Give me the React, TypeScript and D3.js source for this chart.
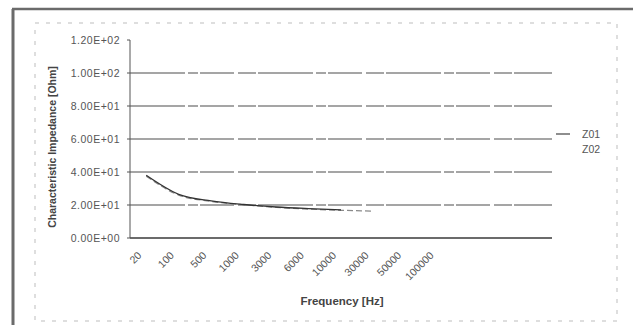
import React from "react";
import * as d3 from "d3";

// category axis (Excel line chart, last 3 slots empty)
const frequencies = ["20", "100", "500", "1000", "3000", "6000", "10000", "30000", "50000", "100000", "", "", ""];
const z01 = [38, 26.5, 22.5, 20.3, 18.8, 17.8, 17.0];
const z02 = [37.5, 26, 22.2, 20.1, 18.6, 17.5, 16.8, 16.3];
const yTicks = [0, 20, 40, 60, 80, 100, 120];
const seriesNames = ["Z01", "Z02"];

const W = 633;
const H = 325;
const plot = { left: 130, right: 552, top: 40, bottom: 238 };

const fmt = (v: number) => {
  if (v === 0) return "0.00E+00";
  const e = Math.floor(Math.log10(v));
  const m = v / Math.pow(10, e);
  return `${m.toFixed(2)}E+${String(e).padStart(2, "0")}`;
};

export default function App() {
  const x = d3
    .scaleBand<number>()
    .domain(frequencies.map((_, i) => i))
    .range([plot.left, plot.right]);
  const y = d3.scaleLinear().domain([0, 120]).range([plot.bottom, plot.top]);

  const line = d3
    .line<number>()
    .x((_, i) => (x(i) as number) + x.bandwidth() / 2)
    .y((d) => y(d))
    .curve(d3.curveMonotoneX);

  const font = "'Liberation Sans', Arial, sans-serif";

  return (
    <svg
      width={W}
      height={H}
      style={{ position: "absolute", left: 0, top: 0, background: "#fff" }}
      fontFamily={font}
    >
      {/* scanned outer frame */}
      <line x1={13} y1={9} x2={13} y2={H} stroke="#6b6b6b" strokeWidth={3} />
      <line x1={12} y1={9} x2={W} y2={9} stroke="#6b6b6b" strokeWidth={2.5} />
      {/* chart area border, faint dashes */}
      <rect
        x={35}
        y={23}
        width={582}
        height={298}
        fill="none"
        stroke="#bdbdbd"
        strokeWidth={1}
        strokeDasharray="4,7"
      />

      {/* gridlines */}
      {yTicks
        .filter((t) => t > 0 && t < 120)
        .map((t) => (
          <line
            key={t}
            x1={plot.left}
            x2={plot.right}
            y1={y(t)}
            y2={y(t)}
            stroke="#4d4d4d"
            strokeWidth={1.2}
            strokeDasharray="55,3,10,2,34,4,18,2"
          />
        ))}

      {/* axes */}
      <line x1={plot.left} x2={plot.right} y1={plot.bottom} y2={plot.bottom} stroke="#3a3a3a" strokeWidth={1.5} />
      <line x1={plot.left} x2={plot.left} y1={plot.top} y2={plot.bottom} stroke="#555" strokeWidth={1} />
      {yTicks.map((t) => (
        <g key={t}>
          <line x1={plot.left - 3} x2={plot.left} y1={y(t)} y2={y(t)} stroke="#555" />
          <text
            x={plot.left - 10}
            y={y(t)}
            dy="0.35em"
            textAnchor="end"
            fontSize={10.5}
            letterSpacing={0.5}
            fill="#555"
          >
            {fmt(t)}
          </text>
        </g>
      ))}

      {/* x labels */}
      {frequencies.map((f, i) =>
        f ? (
          <text
            key={i}
            transform={`translate(${(x(i) as number) + x.bandwidth() / 2 - 4},${plot.bottom + 18}) rotate(-45)`}
            textAnchor="end"
            fontSize={10.5}
            fill="#555"
          >
            {f}
          </text>
        ) : null
      )}

      {/* series */}
      <path d={line(z02) || ""} fill="none" stroke="#8a8a8a" strokeWidth={1.2} strokeDasharray="6,3" />
      <path d={line(z01) || ""} fill="none" stroke="#333" strokeWidth={1.3} />

      {/* axis titles */}
      <text
        transform={`translate(56,${(plot.top + plot.bottom) / 2 + 8}) rotate(-90)`}
        textAnchor="middle"
        fontSize={10.5}
        fontWeight="bold"
        fill="#444"
      >
        Characteristic Impedance [Ohm]
      </text>
      <text x={342} y={305} textAnchor="middle" fontSize={11.5} fontWeight="bold" fill="#444">
        Frequency [Hz]
      </text>

      {/* legend */}
      {seriesNames.map((s, i) => (
        <g key={s} transform={`translate(556,${134 + i * 15})`}>
          {i === 0 ? <line x1={0} x2={14} y1={0} y2={0} stroke="#444" strokeWidth={1.2} /> : null}
          <text x={26} y={0} dy="0.35em" fontSize={10.5} fill="#555">
            {s}
          </text>
        </g>
      ))}
    </svg>
  );
}
